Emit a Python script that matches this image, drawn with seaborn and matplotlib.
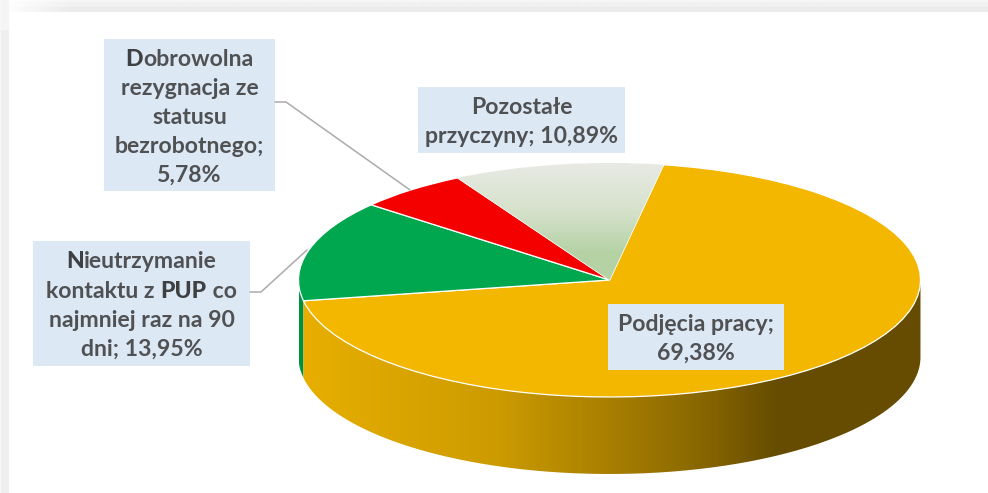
import numpy as np
import matplotlib
matplotlib.use("Agg")
import matplotlib.pyplot as plt
import seaborn as sns
from matplotlib.colors import LinearSegmentedColormap
from matplotlib.patches import PathPatch, Rectangle
from matplotlib.path import Path

# --- Data ---
categories = ["Podjęcia pracy", "Nieutrzymanie kontaktu", "Dobrowolna rezygnacja", "Pozostałe przyczyny"]
shares = [69.38, 13.95, 5.78, 10.89]
slice_colors = ["#F3B700", "#00A74E", "#F40000", "#D5E2CC"]

# Label lines: (text, heavy) segments per line
label_podjecia = [[("Podjęcia pracy;", False)], [("69,38%", False)]]
label_nieutrz = [
    [("N", True), ("ieutrzymanie", False)],
    [("kontaktu z ", False), ("PUP", True), (" co", False)],
    [("najmniej raz na 90", False)],
    [("dni; 13,95%", False)],
]
label_dobrowolna = [
    [("D", True), ("obrowolna", False)],
    [("rezygnacja ze", False)],
    [("statusu", False)],
    [("bezrobotnego;", False)],
    [("5,78%", False)],
]
label_pozostale = [[("Pozostałe", False)], [("przyczyny; 10,89%", False)]]

W, H = 988, 493
START_ANGLE = 80
CX, CY, RX, RY = 609.5, 280, 311, 117
DEPTH = 77 / RY
TEXT_COLOR = "#505153"
BOX_COLOR = "#DDE8F5"
LEADER_COLOR = "#ABABAB"
FONT_SIZE = 16.6

sns.set_theme(style="white")
plt.rcParams["font.family"] = ["Lato", "DejaVu Sans"]

fig = plt.figure(figsize=(W / 100, H / 100), dpi=100, facecolor="white")

# --- Grey page frame behind the chart ---
ax_bg = fig.add_axes([0, 0, 1, 1], zorder=0)
frame = np.ones((H, W))
frame[:2, :] = 0.965
frame[2:7, :] = 0.945
frame[7:12, :] = 0.92
fade = np.clip(np.arange(W) / 70, 0, 1)
frame[:12, :] = 1 - (1 - frame[:12, :]) * fade
frame[:, 1:9] = np.minimum(frame[:, 1:9], 0.935)
frame[:, 0:2] = np.minimum(frame[:, 0:2], 0.97)
frame[:30, :9] = np.maximum(frame[:30, :9], 0.96)
ax_bg.imshow(frame, cmap="gray", vmin=0, vmax=1, aspect="auto")
ax_bg.axis("off")

# --- Pie: top ellipse + side wall ---
ax = fig.add_axes([(CX - RX) / W, 1 - (CY + RY + 77) / H, 2 * RX / W, (2 * RY + 77) / H], zorder=1)
ax.patch.set_alpha(0)
palette = sns.color_palette(slice_colors)
wedges, _ = ax.pie(
    shares,
    colors=palette,
    startangle=START_ANGLE,
    counterclock=False,
    radius=1,
    wedgeprops={"edgecolor": "white", "linewidth": 0.9, "zorder": 3},
)


def wall_path(a0, a1):
    t = np.radians(np.linspace(a0, a1, 200))
    xs = np.concatenate([np.cos(t), np.cos(t[::-1])])
    ys = np.concatenate([np.sin(t), np.sin(t[::-1]) - DEPTH])
    return Path(np.column_stack([xs, ys]))


yellow_end = START_ANGLE - shares[0] / 100 * 360

# green sliver on the far left
ax.add_patch(PathPatch(wall_path(-180, yellow_end), facecolor="#00913F", edgecolor="none", zorder=1))

# yellow wall with horizontal shading
wall = PathPatch(wall_path(yellow_end, 0), facecolor="none", edgecolor="none", zorder=1)
ax.add_patch(wall)
wall_cmap = LinearSegmentedColormap.from_list(
    "wall", [(0.0, "#E8AF00"), (0.32, "#CC9B00"), (0.62, "#8F6C00"), (0.77, "#664C00"), (1.0, "#664C00")]
)
im = ax.imshow(
    np.linspace(0, 1, 512)[None, :], cmap=wall_cmap, extent=(-1, 1, -1 - DEPTH, 1),
    aspect="auto", zorder=1.5,
)
im.set_clip_path(wall)

# gradient on the "Pozostałe" slice, pale at the rim, green at the centre
rest_cmap = LinearSegmentedColormap.from_list(
    "rest", [(0.0, "#E8EAE4"), (0.4, "#D6E2CC"), (0.78, "#B4D2A4"), (1.0, "#B4D2A4")]
)
im2 = ax.imshow(
    np.linspace(0, 1, 128)[:, None], cmap=rest_cmap, extent=(-1, 1, 0, 1),
    aspect="auto", zorder=3.5,
)
im2.set_clip_path(wedges[3])

ax.set_aspect("auto")
ax.set_xlim(-1, 1)
ax.set_ylim(-1 - DEPTH, 1)
ax.axis("off")

# --- Overlay in figure pixels: label boxes and leaders ---
ov = fig.add_axes([0, 0, 1, 1], zorder=2)
ov.patch.set_alpha(0)
ov.set_xlim(0, W)
ov.set_ylim(H, 0)
ov.axis("off")

ov.plot([275, 286, 410], [102, 102, 190], color=LEADER_COLOR, lw=1.1, solid_joinstyle="round")
ov.plot([250, 261, 307], [292, 292, 250], color=LEADER_COLOR, lw=1.1, solid_joinstyle="round")


def draw_label(lines, box, baselines):
    x0, y0, x1, y1 = box
    ov.add_patch(Rectangle((x0, y0), x1 - x0, y1 - y0, facecolor=BOX_COLOR, edgecolor="none"))
    renderer = fig.canvas.get_renderer()
    cx = (x0 + x1) / 2
    for segs, base in zip(lines, baselines):
        items = []
        for txt, heavy in segs:
            t = ov.text(0, base, txt, fontsize=FONT_SIZE, color="#3F4042" if heavy else TEXT_COLOR,
                        fontweight=900 if heavy else "bold", ha="left", va="baseline")
            items.append(t)
        # measure with trailing spaces kept, then lay the segments side by side
        widths = []
        for t, (txt, _) in zip(items, segs):
            w, _, _ = renderer.get_text_width_height_descent(txt, t.get_fontproperties(), False)
            widths.append(w)
        xpos = cx - sum(widths) / 2
        for t, w in zip(items, widths):
            t.set_x(xpos)
            xpos += w


draw_label(label_dobrowolna, (104, 39, 275, 191), [66, 95, 124, 153, 182])
draw_label(label_pozostale, (418, 87, 625, 153), [114, 143])
draw_label(label_nieutrz, (33, 241, 250, 366), [268, 298, 327, 356])
draw_label(label_podjecia, (608, 304, 784, 370), [331, 360])

fig.savefig("out.png", dpi=100)
